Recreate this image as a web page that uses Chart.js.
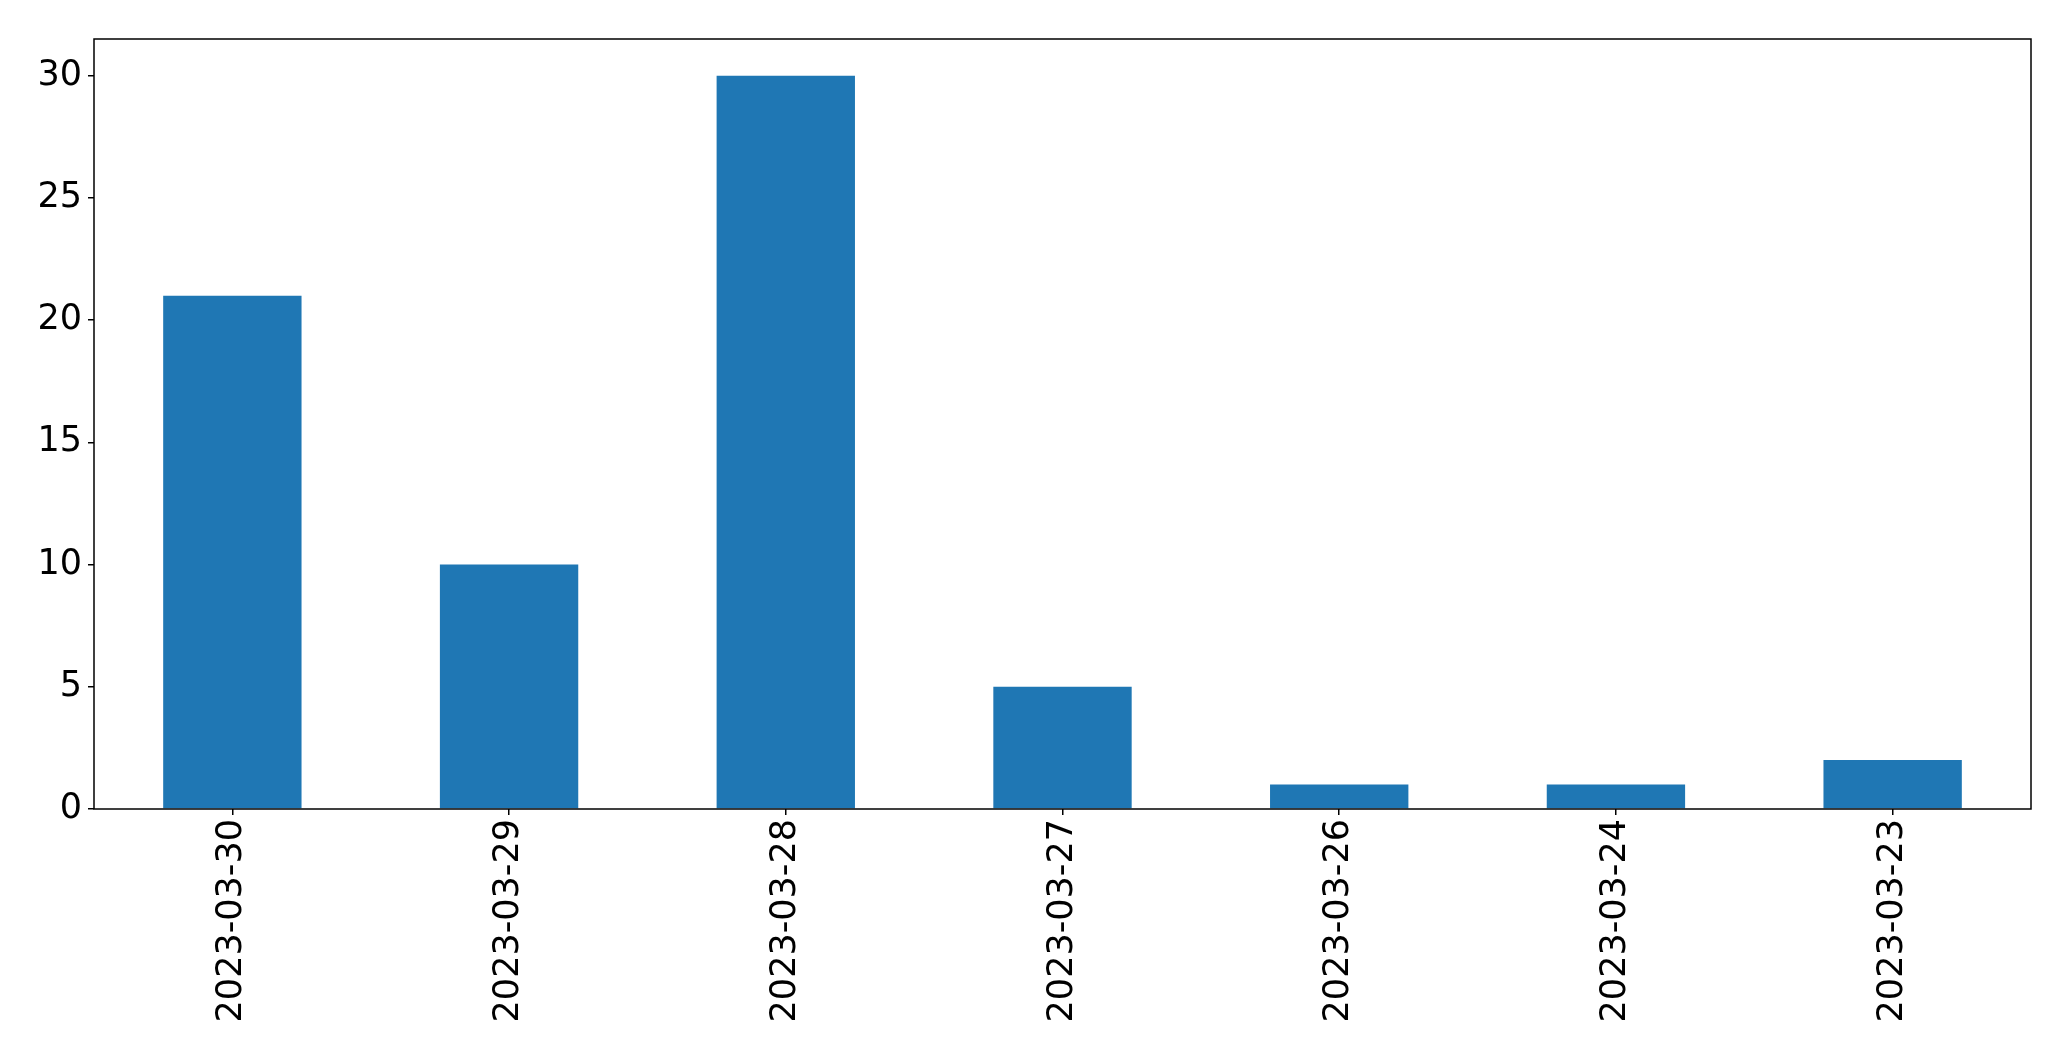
<!DOCTYPE html>
<html>
<head>
<meta charset="utf-8">
<script src="https://cdn.jsdelivr.net/npm/chart.js@4.4.0/dist/chart.umd.min.js"></script>
<style>
  html, body { margin: 0; padding: 0; background: #fff; }
  #wrap { width: 2071px; height: 1061px; }
</style>
</head>
<body>
<div id="wrap"><canvas id="c"></canvas></div>
<script>
// Datos
const dates = ['2023-03-30', '2023-03-29', '2023-03-28', '2023-03-27', '2023-03-26', '2023-03-24', '2023-03-23'];
const counts = [21, 10, 30, 5, 1, 1, 2];
const yTicks = [0, 5, 10, 15, 20, 25, 30];
const yMax = 31.5;

// Caja completa alrededor del área del gráfico
const frame = {
  id: 'frame',
  afterDraw(chart) {
    const a = chart.chartArea, ctx = chart.ctx;
    ctx.save();
    ctx.strokeStyle = '#000';
    ctx.lineWidth = 1.5;
    ctx.strokeRect(a.left, a.top, a.right - a.left, a.bottom - a.top);
    ctx.restore();
  }
};

const font = { family: 'DejaVu Sans', size: 35 };

new Chart(document.getElementById('c'), {
  type: 'bar',
  data: {
    labels: dates,
    datasets: [{
      data: counts,
      backgroundColor: '#1f77b4',
      borderWidth: 0,
      barPercentage: 0.5,
      categoryPercentage: 1.0
    }]
  },
  options: {
    responsive: true,
    maintainAspectRatio: false,
    animation: false,
    layout: { padding: { top: 39, right: 40, left: 0, bottom: 0 } },
    plugins: { legend: { display: false }, tooltip: { enabled: false } },
    scales: {
      x: {
        grid: { offset: false, drawOnChartArea: false, color: '#000', lineWidth: 1.5, tickLength: 6 },
        border: { display: false },
        ticks: { color: '#000', font: font, minRotation: 90, maxRotation: 90, padding: 4, autoSkip: false },
        afterFit(s) { s.height = 1061 - 809; }
      },
      y: {
        min: 0,
        max: yMax,
        grid: { drawOnChartArea: false, color: '#000', lineWidth: 1.5, tickLength: 6 },
        border: { display: false },
        ticks: { color: '#000', font: font, padding: 6 },
        afterBuildTicks(s) { s.ticks = yTicks.map(v => ({ value: v })); },
        afterFit(s) { s.width = 94; }
      }
    }
  },
  plugins: [frame]
});
</script>
</body>
</html>
